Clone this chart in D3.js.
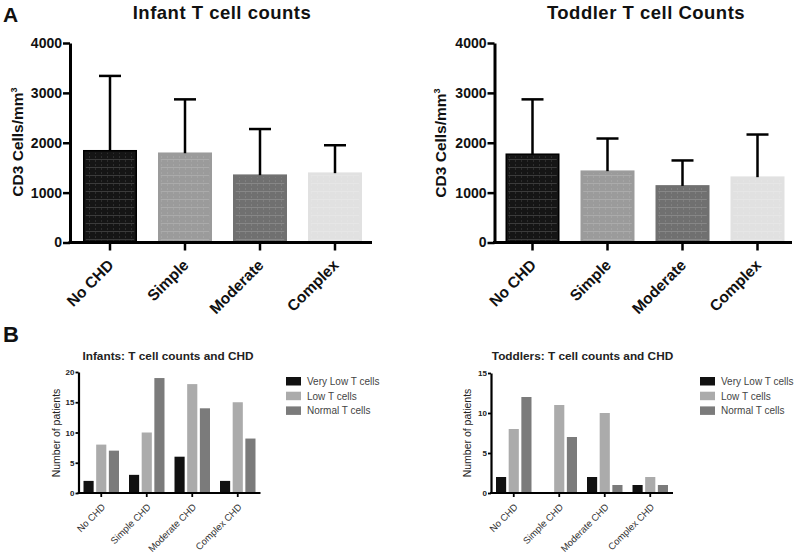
<!DOCTYPE html>
<html>
<head>
<meta charset="utf-8">
<script src="https://cdn.jsdelivr.net/npm/d3@7"></script>
<style>
  body { margin: 0; background: #fff; }
  svg { font-family: "Liberation Sans", Arial, sans-serif; }
</style>
</head>
<body>
<svg width="800" height="553"></svg>
<script>
// === Data

// Panel A: mean CD3 counts with upper SD
const GROUPS_A = ['No CHD', 'Simple', 'Moderate', 'Complex'];
const INFANT_MEAN = [1840, 1790, 1350, 1390];
const INFANT_SD = [1500, 1080, 925, 560];
const TODDLER_MEAN = [1770, 1430, 1135, 1310];
const TODDLER_SD = [1100, 655, 510, 855];
const A_TICKS = [0, 1000, 2000, 3000, 4000];

// Panel B: number of patients per T cell category
const GROUPS_B = ['No CHD', 'Simple CHD', 'Moderate CHD', 'Complex CHD'];
const SERIES = ['Very Low T cells', 'Low T cells', 'Normal T cells'];
const INFANT_VERY_LOW = [2, 3, 6, 2];
const INFANT_LOW = [8, 10, 18, 15];
const INFANT_NORMAL = [7, 19, 14, 9];
const TODDLER_VERY_LOW = [2, 0, 2, 1];
const TODDLER_LOW = [8, 11, 10, 2];
const TODDLER_NORMAL = [12, 7, 1, 1];
const INFANT_TICKS = [0, 5, 10, 15, 20];
const TODDLER_TICKS = [0, 5, 10, 15];

// === Styles

const A_COLORS = ['#151515', '#9b9b9b', '#707070', '#e1e1e1'];
const B_COLORS = ['#111111', '#ababab', '#7b7b7b'];

const svg = d3.select('svg');

// subtle grid texture seen on the panel A bars
const defs = svg.append('defs');
const pat = defs.append('pattern')
  .attr('id', 'grid')
  .attr('patternUnits', 'userSpaceOnUse')
  .attr('width', 6).attr('height', 8);
pat.append('line').attr('x1', 0).attr('x2', 6).attr('y1', 7.5).attr('y2', 7.5)
  .attr('stroke', '#fff').attr('stroke-opacity', 0.16).attr('stroke-width', 1);
pat.append('line').attr('x1', 5.5).attr('x2', 5.5).attr('y1', 0).attr('y2', 8)
  .attr('stroke', '#fff').attr('stroke-opacity', 0.1).attr('stroke-width', 1)
  .attr('stroke-dasharray', '2,2');

// === Panel A

function barPanel(cfg) {
  const g = svg.append('g');
  const y = d3.scaleLinear().domain([0, 4000]).range([cfg.yBottom, cfg.yTop]);
  const x = d3.scaleBand().domain(GROUPS_A)
    .range(cfg.band).paddingInner(0.3).paddingOuter(0.15);
  const rows = GROUPS_A.map((k, i) => ({ k, mean: cfg.mean[i], sd: cfg.sd[i], color: A_COLORS[i] }));

  g.selectAll('rect.bar').data(rows).join('rect')
    .attr('class', 'bar')
    .attr('x', d => x(d.k)).attr('width', x.bandwidth())
    .attr('y', d => y(d.mean)).attr('height', d => y(0) - y(d.mean))
    .attr('fill', d => d.color)
    .attr('stroke', (d, i) => i === 0 ? '#000' : d.color)
    .attr('stroke-width', 1.5);
  g.selectAll('rect.tex').data(rows).join('rect')
    .attr('class', 'tex')
    .attr('x', d => x(d.k) + 2).attr('width', x.bandwidth() - 4)
    .attr('y', d => y(d.mean) + 2).attr('height', d => y(0) - y(d.mean) - 4)
    .attr('fill', 'url(#grid)');

  // error bars (upper only)
  const err = g.selectAll('g.err').data(rows).join('g').attr('class', 'err');
  err.append('line')
    .attr('x1', d => x(d.k) + x.bandwidth() / 2).attr('x2', d => x(d.k) + x.bandwidth() / 2)
    .attr('y1', d => y(d.mean)).attr('y2', d => y(d.mean + d.sd));
  err.append('line')
    .attr('x1', d => x(d.k) + x.bandwidth() / 2 - 11).attr('x2', d => x(d.k) + x.bandwidth() / 2 + 11)
    .attr('y1', d => y(d.mean + d.sd)).attr('y2', d => y(d.mean + d.sd));
  err.selectAll('line').attr('stroke', '#000').attr('stroke-width', 2.5);

  // axes
  const yAxis = g.append('g')
    .attr('transform', `translate(${cfg.axisX},0)`)
    .call(d3.axisLeft(y).tickValues(A_TICKS).tickFormat(d3.format('d'))
      .tickSize(7).tickPadding(1).tickSizeOuter(0));
  const xAxis = g.append('g')
    .attr('transform', `translate(0,${cfg.yBottom})`)
    .call(d3.axisBottom(x).tickSize(8).tickSizeOuter(0).tickFormat(''));
  xAxis.select('.domain').remove();
  g.append('line')
    .attr('x1', cfg.axisX - 1.5).attr('x2', cfg.xEnd)
    .attr('y1', cfg.yBottom).attr('y2', cfg.yBottom)
    .attr('stroke', '#000').attr('stroke-width', 3);
  [yAxis, xAxis].forEach(a => {
    a.selectAll('.domain').attr('stroke-width', 3);
    a.selectAll('.tick line').attr('stroke-width', 2.5);
  });
  yAxis.selectAll('text')
    .attr('font-size', 14).attr('font-weight', 'bold').attr('fill', '#111');

  // rotated category labels
  g.selectAll('text.cat').data(GROUPS_A).join('text')
    .attr('class', 'cat')
    .attr('transform', d => `translate(${x(d) + x.bandwidth() / 2 - 3},${cfg.yBottom + 16}) rotate(-45)`)
    .attr('text-anchor', 'end')
    .attr('dy', '0.7em')
    .attr('font-size', 15.5).attr('font-weight', 'bold').attr('fill', '#111')
    .text(d => d);

  // y label
  const yl = g.append('text')
    .attr('transform', `translate(${cfg.yLabelX},${cfg.yLabelY}) rotate(-90)`)
    .attr('text-anchor', 'middle')
    .attr('font-size', 15.5).attr('font-weight', 'bold').attr('fill', '#111');
  yl.append('tspan').text(cfg.yLabel);
  yl.append('tspan').attr('dy', -6).attr('font-size', 9).text('3');

  // title
  g.append('text')
    .attr('x', cfg.titleX).attr('y', 19)
    .attr('text-anchor', 'middle')
    .attr('font-size', 18.5).attr('font-weight', 'bold').attr('fill', '#111')
    .attr('letter-spacing', 0.5)
    .text(cfg.title);
}

barPanel({
  mean: INFANT_MEAN, sd: INFANT_SD,
  axisX: 70, band: [72.5, 372.5], xEnd: 372,
  yBottom: 242.5, yTop: 43,
  yLabel: 'CD3 Cells/mm', yLabelX: 23, yLabelY: 142,
  title: 'Infant T cell counts', titleX: 222
});
barPanel({
  mean: TODDLER_MEAN, sd: TODDLER_SD,
  axisX: 494.5, band: [495, 795], xEnd: 792,
  yBottom: 242.5, yTop: 43,
  yLabel: 'CD3  Cells/mm', yLabelX: 446, yLabelY: 143,
  title: 'Toddler T cell Counts', titleX: 646
});

// === Panel B

function groupedPanel(cfg) {
  const g = svg.append('g');
  const y = d3.scaleLinear().domain([0, cfg.max]).range([cfg.yBottom, cfg.yTop]);
  const x0 = d3.scaleBand().domain(GROUPS_B)
    .range([cfg.axisX, cfg.xEnd]).paddingInner(0.22).paddingOuter(0.11);
  const x1 = d3.scaleBand().domain(SERIES)
    .range([0, x0.bandwidth()]).paddingInner(0.2);

  const cells = [];
  GROUPS_B.forEach((grp, i) => {
    SERIES.forEach((s, j) => cells.push({ grp, s, j, v: cfg.values[j][i] }));
  });

  g.selectAll('rect.bar').data(cells.filter(d => d.v > 0)).join('rect')
    .attr('class', 'bar')
    .attr('x', d => x0(d.grp) + x1(d.s)).attr('width', x1.bandwidth())
    .attr('y', d => y(d.v)).attr('height', d => y(0) - y(d.v))
    .attr('fill', d => B_COLORS[d.j]);

  const yAxis = g.append('g')
    .attr('transform', `translate(${cfg.axisX},0)`)
    .call(d3.axisLeft(y).tickValues(cfg.ticks).tickSize(3).tickPadding(1).tickSizeOuter(0));
  yAxis.select('.domain').attr('stroke-width', 2.2);
  yAxis.selectAll('.tick line').attr('stroke-width', 1.8);
  yAxis.selectAll('text').attr('font-size', 8).attr('font-weight', 'bold').attr('fill', '#222');

  const xAxis = g.append('g')
    .attr('transform', `translate(0,${cfg.yBottom})`)
    .call(d3.axisBottom(x0).tickSize(4).tickSizeOuter(0).tickFormat(''));
  xAxis.select('.domain').remove();
  xAxis.selectAll('.tick line').attr('stroke-width', 1.8);
  g.append('line')
    .attr('x1', cfg.axisX - 1).attr('x2', cfg.xEnd)
    .attr('y1', cfg.yBottom).attr('y2', cfg.yBottom)
    .attr('stroke', '#000').attr('stroke-width', 2.2);

  g.selectAll('text.cat').data(GROUPS_B).join('text')
    .attr('class', 'cat')
    .attr('transform', d => `translate(${x0(d) + x0.bandwidth() / 2},${cfg.yBottom + 10}) rotate(-45)`)
    .attr('text-anchor', 'end')
    .attr('dy', '0.7em')
    .attr('font-size', 9.5).attr('fill', '#333')
    .text(d => d);

  g.append('text')
    .attr('transform', `translate(${cfg.yLabelX},${cfg.yLabelY}) rotate(-90)`)
    .attr('text-anchor', 'middle')
    .attr('font-size', 10.5).attr('fill', '#222')
    .text('Number of patients');

  g.append('text')
    .attr('x', cfg.titleX).attr('y', 359.5)
    .attr('text-anchor', 'middle')
    .attr('font-size', 11.8).attr('font-weight', 'bold').attr('fill', '#222')
    .text(cfg.title);

  const leg = g.selectAll('g.leg').data(SERIES).join('g')
    .attr('class', 'leg')
    .attr('transform', (d, i) => `translate(${cfg.legendX},${377 + i * 14.7})`);
  leg.append('rect').attr('width', 15).attr('height', 8.5)
    .attr('fill', (d, i) => B_COLORS[i]);
  leg.append('text').attr('x', 21).attr('y', 8)
    .attr('font-size', 10).attr('fill', '#444')
    .text(d => d);
}

groupedPanel({
  values: [INFANT_VERY_LOW, INFANT_LOW, INFANT_NORMAL],
  max: 20, ticks: INFANT_TICKS,
  axisX: 78.5, xEnd: 260.5, yBottom: 493, yTop: 372,
  yLabelX: 60, yLabelY: 433,
  title: 'Infants: T cell counts and CHD', titleX: 168,
  legendX: 286
});
groupedPanel({
  values: [TODDLER_VERY_LOW, TODDLER_LOW, TODDLER_NORMAL],
  max: 15, ticks: TODDLER_TICKS,
  axisX: 491, xEnd: 673, yBottom: 493, yTop: 373,
  yLabelX: 471, yLabelY: 433,
  title: 'Toddlers:  T cell counts and CHD', titleX: 582.5,
  legendX: 700
});

// panel letters
svg.append('text').attr('x', 3).attr('y', 22)
  .attr('font-size', 21).attr('font-weight', 'bold').attr('fill', '#111').text('A');
svg.append('text').attr('x', 3).attr('y', 342)
  .attr('font-size', 22).attr('font-weight', 'bold').attr('fill', '#111').text('B');
</script>
</body>
</html>
